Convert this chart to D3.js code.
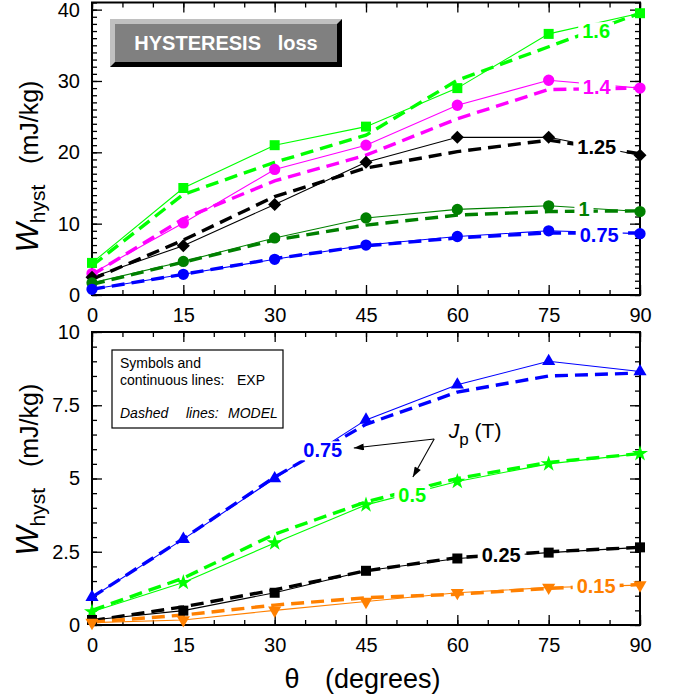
<!DOCTYPE html>
<html>
<head>
<meta charset="utf-8">
<script src="https://cdn.jsdelivr.net/npm/d3@7"></script>
<style>
body { margin: 0; background: #fff; }
svg { display: block; font-family: "Liberation Sans", Arial, sans-serif; }
.pre { white-space: pre; }
</style>
</head>
<body>
<svg id="chart" width="675" height="698"></svg>
<script>

// angles of the measurements (degrees)
var angles = [0, 15, 30, 45, 60, 75, 90];
var xMajor = [0, 15, 30, 45, 60, 75, 90];

// upper panel: Jp = 1.6, 1.4, 1.25, 1, 0.75 T  (mJ/kg)
var exp160 = [4.5, 15.0, 21.0, 23.6, 29.0, 36.6, 39.5];
var mod160 = [4.1, 14.1, 18.6, 22.4, 30.1, 34.8, 39.5];
var exp140 = [3.0, 10.1, 17.6, 21.0, 26.6, 30.1, 29.0];
var mod140 = [2.8, 10.7, 16.0, 19.6, 24.7, 28.8, 29.0];
var exp125 = [2.5, 6.9, 12.7, 18.6, 22.1, 22.1, 19.6];
var mod125 = [2.2, 7.7, 13.8, 17.8, 20.1, 21.7, 19.8];
var exp100 = [1.7, 4.7, 8.0, 10.8, 12.0, 12.5, 11.7];
var mod100 = [1.5, 4.6, 7.7, 9.8, 11.2, 11.7, 11.8];
var exp075 = [0.8, 2.9, 5.0, 7.0, 8.2, 9.0, 8.6];
var mod075 = [0.8, 2.9, 5.1, 6.9, 8.0, 8.7, 8.7];

// lower panel: Jp = 0.75, 0.5, 0.25, 0.15 T
var lowExp075 = [0.95, 2.93, 5.0, 7.0, 8.2, 9.0, 8.65];
var lowMod075 = [0.95, 2.95, 5.05, 6.85, 7.95, 8.5, 8.6];
var lowExp050 = [0.45, 1.45, 2.8, 4.1, 4.9, 5.5, 5.85];
var lowMod050 = [0.5, 1.6, 3.1, 4.2, 5.0, 5.55, 5.85];
var lowExp025 = [0.17, 0.49, 1.1, 1.85, 2.27, 2.47, 2.65];
var lowMod025 = [0.15, 0.62, 1.2, 1.85, 2.3, 2.5, 2.65];
var lowExp015 = [0.08, 0.17, 0.5, 0.8, 1.1, 1.28, 1.36];
var lowMod015 = [0.1, 0.34, 0.68, 0.93, 1.05, 1.25, 1.38];

var topYTicks = [0, 10, 20, 30, 40];
var lowYTicks = [0, 2.5, 5, 7.5, 10];
var lowYLabels = ["0", "2.5", "5", "7.5", "10"];

var svg = d3.select("#chart");

var x = d3.scaleLinear().domain([0, 90]).range([92, 640]);
var yTop = d3.scaleLinear().domain([0, 41]).range([295, 2.5]);
var yLow = d3.scaleLinear().domain([0, 10]).range([625, 332]);

var LIME = "#00ff00", MAG = "#ff00ff", DKGREEN = "#008000", BLUE = "#0000ff", ORANGE = "#ff8000";

var topSeries = [
	{ name: "1.6",  exp: exp160, mod: mod160, color: LIME,    sym: "square",  lab: [82.8, 37.0] },
	{ name: "1.4",  exp: exp140, mod: mod140, color: MAG,     sym: "circle",  lab: [82.9, 29.2] },
	{ name: "1.25", exp: exp125, mod: mod125, color: "#000",  sym: "diamond", lab: [82.9, 20.8] },
	{ name: "1",    exp: exp100, mod: mod100, color: DKGREEN, sym: "circle",  lab: [80.8, 12.1] },
	{ name: "0.75", exp: exp075, mod: mod075, color: BLUE,    sym: "circle",  lab: [83.3, 8.4] }
];

var lowSeries = [
	{ name: "0.75", exp: lowExp075, mod: lowMod075, color: BLUE,   sym: "triUp",   lab: [37.9, 5.97] },
	{ name: "0.5",  exp: lowExp050, mod: lowMod050, color: LIME,   sym: "star",    lab: [52.6, 4.44] },
	{ name: "0.25", exp: lowExp025, mod: lowMod025, color: "#000", sym: "square",  lab: [67.2, 2.39] },
	{ name: "0.15", exp: lowExp015, mod: lowMod015, color: ORANGE, sym: "triDown", lab: [82.8, 1.33] }
];

function symbolPath(kind) {
	if (kind === "square") return { d: d3.symbol(d3.symbolSquare, 100)(), rot: 0 };
	if (kind === "circle") return { d: d3.symbol(d3.symbolCircle, 100)(), rot: 0 };
	if (kind === "diamond") return { d: d3.symbol(d3.symbolSquare, 85)(), rot: 45 };
	if (kind === "triUp") return { d: d3.symbol(d3.symbolTriangle, 75)(), rot: 0 };
	if (kind === "triDown") return { d: d3.symbol(d3.symbolTriangle, 75)(), rot: 180 };
	return { d: d3.symbol(d3.symbolStar, 80)(), rot: 0 };
}

function drawPanel(y, series, yTicks, yMinorStep, yLabels) {
	var g = svg.append("g");
	var x0 = x.range()[0], x1 = x.range()[1];
	var y0 = y.range()[0], y1 = y.range()[1];

	// ticks, inward on all four sides
	var xMinor = d3.range(0, 91, 5);
	var yMinor = d3.range(0, y.domain()[1] + 0.001, yMinorStep);

	g.append("g").attr("transform", "translate(0," + y0 + ")")
		.call(d3.axisBottom(x).tickValues(xMinor).tickSize(-5).tickFormat(""));
	g.append("g").attr("transform", "translate(0," + y0 + ")")
		.call(d3.axisBottom(x).tickValues(xMajor).tickSize(-10).tickPadding(12.5));
	g.append("g").attr("transform", "translate(0," + y1 + ")")
		.call(d3.axisTop(x).tickValues(xMinor).tickSize(-5).tickFormat(""));
	g.append("g").attr("transform", "translate(0," + y1 + ")")
		.call(d3.axisTop(x).tickValues(xMajor).tickSize(-10).tickFormat(""));

	g.append("g").attr("transform", "translate(" + x0 + ",0)")
		.call(d3.axisLeft(y).tickValues(yMinor).tickSize(-5).tickFormat(""));
	g.append("g").attr("transform", "translate(" + x0 + ",0)")
		.call(d3.axisLeft(y).tickValues(yTicks).tickSize(-10).tickPadding(12)
			.tickFormat(function (d, i) { return yLabels ? yLabels[i] : d; }));
	g.append("g").attr("transform", "translate(" + x1 + ",0)")
		.call(d3.axisRight(y).tickValues(yMinor).tickSize(-5).tickFormat(""));
	g.append("g").attr("transform", "translate(" + x1 + ",0)")
		.call(d3.axisRight(y).tickValues(yTicks).tickSize(-10).tickFormat(""));

	g.selectAll(".domain").remove();
	g.selectAll(".tick line").attr("stroke", "#000").attr("stroke-width", 1.3);
	g.selectAll(".tick text").attr("font-size", 20).attr("fill", "#000")
		.attr("font-family", "Liberation Sans, Arial, sans-serif");

	g.append("rect")
		.attr("x", x0).attr("y", y1)
		.attr("width", x1 - x0).attr("height", y0 - y1)
		.attr("fill", "none").attr("stroke", "#000").attr("stroke-width", 2);

	var line = function (vals) {
		return d3.line()
			.x(function (d, i) { return x(angles[i]); })
			.y(function (d) { return y(d); })(vals);
	};

	series.forEach(function (s) {
		g.append("path").attr("d", line(s.mod))
			.attr("fill", "none").attr("stroke", s.color)
			.attr("stroke-width", 3.4).attr("stroke-dasharray", "13,7");
		g.append("path").attr("d", line(s.exp))
			.attr("fill", "none").attr("stroke", s.color).attr("stroke-width", 1.1);
	});

	series.forEach(function (s) {
		var sp = symbolPath(s.sym);
		g.selectAll(null).data(s.exp).enter().append("path")
			.attr("d", sp.d)
			.attr("transform", function (d, i) {
				return "translate(" + x(angles[i]) + "," + y(d) + ") rotate(" + sp.rot + ")";
			})
			.attr("fill", s.color);
	});

	// curve labels, sitting on a white patch that breaks the lines
	series.forEach(function (s) {
		var lg = g.append("g");
		var t = lg.append("text")
			.attr("x", x(s.lab[0])).attr("y", y(s.lab[1]))
			.attr("dy", "0.36em")
			.attr("text-anchor", "middle")
			.attr("font-size", 20).attr("font-weight", "bold")
			.attr("fill", s.color).text(s.name);
		var bb = t.node().getBBox();
		lg.insert("rect", "text")
			.attr("x", bb.x - 4).attr("y", bb.y + 2)
			.attr("width", bb.width + 8).attr("height", bb.height - 3)
			.attr("fill", "#fff");
	});

	return g;
}

drawPanel(yTop, topSeries, topYTicks, 1, null);
var low = drawPanel(yLow, lowSeries, lowYTicks, 0.5, lowYLabels);

// title box, upper panel
var tb = svg.append("g");
tb.append("rect").attr("x", 110).attr("y", 19).attr("width", 232).attr("height", 48).attr("fill", "#000");
tb.append("polygon").attr("points", "110,19 342,19 337,24 115,24 115,62 110,67").attr("fill", "#c0c0c0");
tb.append("rect").attr("x", 115).attr("y", 24).attr("width", 222).attr("height", 38).attr("fill", "#808080");
tb.append("text").attr("class", "pre").attr("x", 226).attr("y", 50)
	.attr("text-anchor", "middle").attr("font-size", 20).attr("font-weight", "bold")
	.attr("fill", "#fff").text("HYSTERESIS   loss");

// legend box, lower panel
var lb = svg.append("g");
lb.append("rect").attr("x", 112).attr("y", 350).attr("width", 171).attr("height", 78)
	.attr("fill", "#fff").attr("stroke", "#000").attr("stroke-width", 1.2);
lb.append("text").attr("x", 120).attr("y", 368).attr("font-size", 14).text("Symbols and");
lb.append("text").attr("x", 120).attr("y", 385).attr("font-size", 14).text("continuous lines:");
lb.append("text").attr("x", 237).attr("y", 385).attr("font-size", 14).text("EXP");
lb.append("text").attr("x", 120).attr("y", 418).attr("font-size", 14).attr("font-style", "italic").text("Dashed");
lb.append("text").attr("x", 186).attr("y", 418).attr("font-size", 14).attr("font-style", "italic").text("lines:");
lb.append("text").attr("x", 228).attr("y", 418).attr("font-size", 14).attr("font-style", "italic").text("MODEL");

// Jp (T) annotation with two arrows
var defs = svg.append("defs");
defs.append("marker").attr("id", "arr")
	.attr("viewBox", "0 0 10 7").attr("refX", 10).attr("refY", 3.5)
	.attr("markerWidth", 11).attr("markerHeight", 7)
	.attr("markerUnits", "userSpaceOnUse").attr("orient", "auto")
	.append("path").attr("d", "M0,0 L10,3.5 L0,7 z").attr("fill", "#000");

var arrowFrom = [56.2, 6.35];
var arrowTo = [[43.0, 6.04], [52.7, 5.05]];
arrowTo.forEach(function (p) {
	low.append("line")
		.attr("x1", x(arrowFrom[0])).attr("y1", yLow(arrowFrom[1]))
		.attr("x2", x(p[0])).attr("y2", yLow(p[1]))
		.attr("stroke", "#000").attr("stroke-width", 1.1)
		.attr("marker-end", "url(#arr)");
});
var jp = low.append("text").attr("class", "pre")
	.attr("x", x(58.6)).attr("y", yLow(6.38)).attr("font-size", 21);
jp.append("tspan").attr("font-style", "italic").text("J");
jp.append("tspan").attr("font-size", 17).attr("dy", 7).text("p");
jp.append("tspan").attr("dy", -7).text(" (T)");

// axis titles
svg.append("text").attr("x", 292).attr("y", 688).attr("text-anchor", "middle")
	.attr("font-size", 27).text("\u03b8");
svg.append("text").attr("x", 325).attr("y", 688).attr("font-size", 27).text("(degrees)");

function yTitle(cy) {
	var t = svg.append("text").attr("class", "pre")
		.attr("transform", "translate(38," + cy + ") rotate(-90)")
		.attr("text-anchor", "middle");
	t.append("tspan").attr("font-size", 31).attr("font-style", "italic").text("W");
	t.append("tspan").attr("font-size", 21).attr("dy", 7).text("hyst");
	t.append("tspan").attr("font-size", 25).attr("dy", -7).text("   (mJ/kg)");
}
yTitle(yTop(18));
yTitle(yLow(5.3));

</script>
</body>
</html>
